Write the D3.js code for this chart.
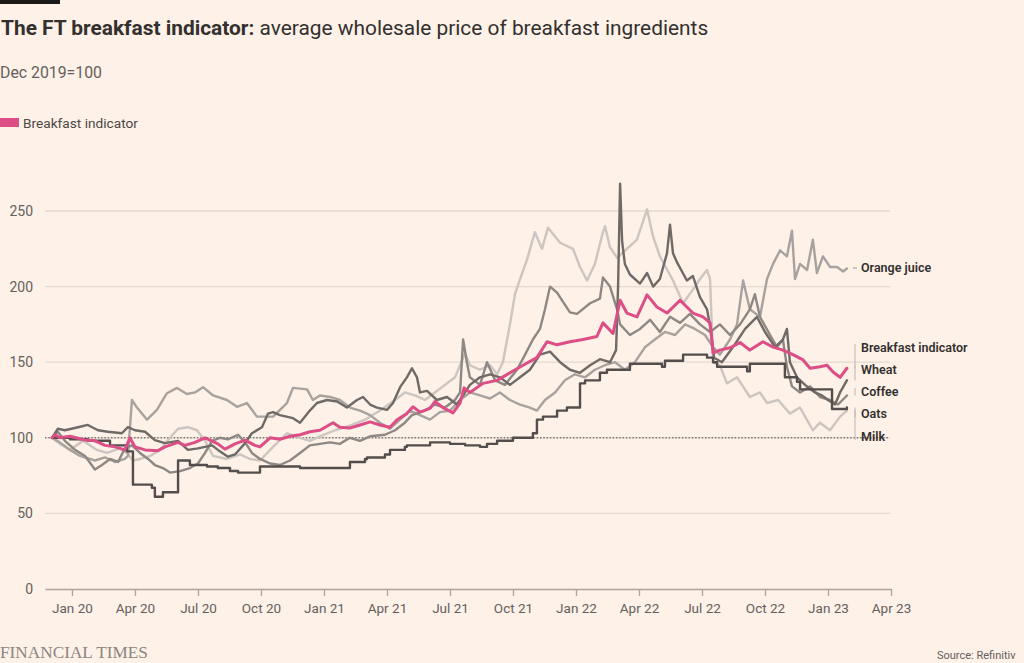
<!DOCTYPE html>
<html><head><meta charset="utf-8">
<script src="https://cdn.jsdelivr.net/npm/d3@7"></script>
<style>
html,body{margin:0;padding:0;background:#fdf1e8;}
svg{display:block;font-family:Roboto,"Noto Sans",sans-serif;}
</style></head><body>
<svg id="chart" width="1024" height="663"></svg>
<script>
// ---- DATA (time as decimal year, value index Dec 2019 = 100) ----
const breakfastIndicator = [[2019.921,100],[2019.933,102],[2019.952,100],[2019.992,101],[2020.052,98.5],[2020.091,98],[2020.131,95],[2020.171,94],[2020.210,92],[2020.230,100],[2020.250,94],[2020.290,92],[2020.341,91.5],[2020.369,94],[2020.421,97],[2020.448,95],[2020.488,97],[2020.528,100],[2020.579,96],[2020.607,92.5],[2020.647,96],[2020.687,98.5],[2020.726,95],[2020.746,94],[2020.786,100],[2020.825,99],[2020.865,101],[2020.905,102],[2020.944,104],[2020.984,105],[2021.036,110],[2021.063,107],[2021.103,106.5],[2021.143,108.5],[2021.183,110.5],[2021.222,108.5],[2021.262,107],[2021.290,112],[2021.329,116],[2021.353,120.5],[2021.381,117],[2021.421,119.5],[2021.440,124],[2021.472,120],[2021.512,116.5],[2021.540,123],[2021.556,133],[2021.579,130],[2021.631,136],[2021.687,138],[2021.738,143],[2021.790,148],[2021.845,153],[2021.885,163.5],[2021.925,161.5],[2021.976,163.5],[2022.028,165],[2022.083,167],[2022.107,176],[2022.147,169],[2022.175,191],[2022.202,182.5],[2022.242,180],[2022.282,194.5],[2022.321,186.5],[2022.361,182.5],[2022.413,191],[2022.440,186.5],[2022.464,182.5],[2022.504,180],[2022.532,176],[2022.544,156],[2022.571,158],[2022.611,159.5],[2022.651,163],[2022.690,158],[2022.742,163.5],[2022.782,160],[2022.821,158],[2022.861,155],[2022.901,151.5],[2022.929,146],[2022.968,147],[2022.996,148],[2023.020,143.5],[2023.048,140],[2023.075,146]];

const wheat = [[2019.921,100],[2019.944,106],[2019.972,105],[2020.024,107],[2020.063,108.5],[2020.103,105],[2020.143,104],[2020.198,103],[2020.222,107],[2020.250,105],[2020.290,104],[2020.329,98.5],[2020.369,96.5],[2020.421,98],[2020.460,92],[2020.500,93],[2020.556,95],[2020.579,92],[2020.619,87.5],[2020.647,89],[2020.687,96.5],[2020.714,103],[2020.754,107],[2020.778,116],[2020.798,117],[2020.825,115],[2020.877,113],[2020.905,110],[2020.944,118],[2020.972,123],[2021.012,125],[2021.052,124],[2021.091,120],[2021.131,125],[2021.155,127],[2021.183,122],[2021.210,120],[2021.250,118.5],[2021.274,123],[2021.302,133.5],[2021.329,140],[2021.349,146],[2021.369,140],[2021.381,130],[2021.409,131],[2021.448,125],[2021.488,127],[2021.528,122],[2021.540,125],[2021.579,135],[2021.619,140],[2021.659,142],[2021.698,140],[2021.738,135],[2021.778,140],[2021.817,145],[2021.857,155],[2021.897,157],[2021.937,150],[2021.976,145],[2022.016,143],[2022.056,148],[2022.095,152],[2022.135,150],[2022.159,158],[2022.167,200],[2022.175,268],[2022.183,230],[2022.194,215],[2022.214,208],[2022.254,202],[2022.282,209],[2022.306,200],[2022.333,205],[2022.361,222],[2022.373,241],[2022.385,222],[2022.401,216],[2022.440,204],[2022.464,207],[2022.492,193],[2022.520,185],[2022.536,170],[2022.548,153],[2022.579,150],[2022.623,160],[2022.671,172],[2022.718,180],[2022.750,170],[2022.790,160],[2022.821,165],[2022.837,172],[2022.849,150],[2022.877,140],[2022.909,135],[2022.948,130],[2022.976,128],[2023.000,125],[2023.028,122],[2023.048,130],[2023.075,138]];

const coffee = [[2019.921,100],[2019.944,104],[2019.972,98],[2020.012,92],[2020.052,88],[2020.091,79],[2020.119,82],[2020.151,86],[2020.183,84],[2020.210,93],[2020.238,95],[2020.270,90],[2020.302,86],[2020.329,82],[2020.361,80],[2020.389,77],[2020.429,78],[2020.468,80],[2020.500,83],[2020.528,90],[2020.556,98],[2020.587,100],[2020.619,99],[2020.659,102],[2020.687,97],[2020.714,90],[2020.746,86],[2020.786,83],[2020.825,82],[2020.865,85],[2020.905,90],[2020.944,95],[2020.984,96],[2021.024,97],[2021.063,96],[2021.103,100],[2021.143,98],[2021.183,101],[2021.242,102],[2021.282,105],[2021.321,110],[2021.349,115],[2021.401,118],[2021.440,122],[2021.480,120],[2021.520,125],[2021.540,130],[2021.552,165],[2021.567,150],[2021.579,140],[2021.619,135],[2021.647,150],[2021.679,138],[2021.718,135],[2021.766,145],[2021.798,155],[2021.829,165],[2021.857,172],[2021.877,185],[2021.897,200],[2021.925,196],[2021.948,190],[2021.976,183],[2022.004,182],[2022.056,189],[2022.095,192],[2022.107,206],[2022.135,200],[2022.163,185],[2022.175,175],[2022.214,168],[2022.254,172],[2022.294,178],[2022.333,170],[2022.373,180],[2022.413,176],[2022.452,182],[2022.492,175],[2022.532,170],[2022.571,175],[2022.611,168],[2022.651,175],[2022.690,185],[2022.710,195],[2022.730,180],[2022.770,168],[2022.798,160],[2022.821,165],[2022.837,147],[2022.857,134],[2022.889,130],[2022.929,134],[2022.968,127],[2023.008,125],[2023.040,122],[2023.075,128]];

const orangeJuice = [[2019.921,100],[2019.952,97],[2019.992,92],[2020.032,88],[2020.091,85],[2020.131,87],[2020.171,84],[2020.210,86],[2020.222,88],[2020.238,125],[2020.258,120],[2020.298,112],[2020.337,118.5],[2020.377,129.5],[2020.417,133],[2020.456,129],[2020.488,130],[2020.520,133.5],[2020.560,128],[2020.615,125],[2020.655,120.5],[2020.694,123],[2020.734,114],[2020.798,114],[2020.853,123],[2020.877,133],[2020.933,132],[2020.956,125],[2020.984,128],[2021.024,127],[2021.063,125],[2021.103,120],[2021.143,118],[2021.183,115],[2021.222,110],[2021.262,106],[2021.302,112],[2021.341,118],[2021.381,115],[2021.421,112],[2021.460,117],[2021.500,118],[2021.540,125],[2021.579,130],[2021.619,128],[2021.659,126],[2021.698,130],[2021.738,125],[2021.778,122],[2021.817,120],[2021.845,118],[2021.877,125],[2021.917,130],[2021.956,138],[2021.996,142],[2022.036,140],[2022.075,145],[2022.115,148],[2022.155,150],[2022.194,145],[2022.234,150],[2022.274,160],[2022.313,165],[2022.353,170],[2022.393,168],[2022.433,175],[2022.472,172],[2022.512,168],[2022.544,160],[2022.571,155],[2022.611,165],[2022.639,175],[2022.663,204],[2022.690,185],[2022.730,180],[2022.758,205],[2022.782,215],[2022.810,224],[2022.837,220],[2022.857,237],[2022.869,205],[2022.889,215],[2022.917,211],[2022.940,231],[2022.956,209],[2022.980,220],[2023.008,213],[2023.036,213],[2023.060,210],[2023.075,212]];

const oats = [[2019.921,100],[2019.952,96],[2019.992,92],[2020.044,98],[2020.099,92],[2020.139,90],[2020.190,93],[2020.218,90],[2020.242,85],[2020.270,86],[2020.310,88],[2020.349,92],[2020.389,100],[2020.421,106],[2020.460,107],[2020.496,105],[2020.528,98],[2020.560,88],[2020.615,86],[2020.667,89],[2020.706,86],[2020.746,85],[2020.798,94],[2020.853,103],[2020.905,100],[2020.944,98],[2020.984,101],[2021.044,105],[2021.103,108],[2021.163,112],[2021.222,118],[2021.282,125],[2021.321,130],[2021.361,128],[2021.401,125],[2021.440,130],[2021.480,135],[2021.520,140],[2021.540,148],[2021.560,156],[2021.579,148],[2021.619,145],[2021.659,148],[2021.687,142],[2021.710,150],[2021.738,175],[2021.758,195],[2021.778,205],[2021.806,218],[2021.837,236],[2021.865,225],[2021.889,239],[2021.937,229],[2021.988,225],[2022.016,213],[2022.044,204],[2022.075,215],[2022.107,236],[2022.115,240],[2022.135,226],[2022.163,219],[2022.202,225],[2022.242,231],[2022.282,251],[2022.306,233],[2022.333,220],[2022.385,204],[2022.425,189],[2022.464,198],[2022.492,205],[2022.520,211],[2022.532,205],[2022.544,150],[2022.571,148],[2022.599,136],[2022.639,140],[2022.690,127],[2022.730,130],[2022.758,123],[2022.802,125],[2022.849,116],[2022.889,120],[2022.940,105],[2022.968,110],[2023.008,105],[2023.048,114],[2023.075,118]];

const milk = [[2019.921,100],[2019.992,99],[2020.063,98],[2020.151,95],[2020.218,91],[2020.242,69],[2020.317,67],[2020.329,61],[2020.361,64],[2020.421,85],[2020.468,82],[2020.536,81],[2020.579,80],[2020.627,78],[2020.659,77],[2020.746,81],[2020.905,80],[2021.091,80],[2021.103,84],[2021.163,86],[2021.171,87],[2021.242,89],[2021.262,92],[2021.321,94],[2021.329,95],[2021.421,97],[2021.500,96],[2021.560,95],[2021.619,94],[2021.647,96],[2021.687,98],[2021.750,100],[2021.829,103],[2021.845,112],[2021.869,114],[2021.925,118],[2021.964,120],[2022.016,136],[2022.036,138],[2022.095,143],[2022.123,145],[2022.214,149],[2022.341,147],[2022.353,151],[2022.425,155],[2022.520,153],[2022.544,150],[2022.560,147],[2022.679,144],[2022.690,149],[2022.829,140],[2022.877,137],[2022.889,132],[2023.016,119],[2023.075,120]];

const yTicks = [0, 50, 100, 150, 200, 250];
const xTickValues = [2020, 2020.25, 2020.5, 2020.75, 2021, 2021.25, 2021.5, 2021.75, 2022, 2022.25, 2022.5, 2022.75, 2023, 2023.25];
const xTickLabels = ["Jan 20","Apr 20","Jul 20","Oct 20","Jan 21","Apr 21","Jul 21","Oct 21","Jan 22","Apr 22","Jul 22","Oct 22","Jan 23","Apr 23"];
const baseValue = 100;

// ---- LAYOUT ----
const W = 1024, H = 663;
const plotLeft = 45, plotRight = 891, plotTop = 211, plotBottom = 589;
const bg = "#fdf1e8";
const svg = d3.select("#chart");
svg.append("rect").attr("width", W).attr("height", H).attr("fill", bg);

const x = d3.scaleLinear().domain([2019.893, 2023.25]).range([plotLeft, plotRight]);
const y = d3.scaleLinear().domain([0, 250]).range([plotBottom, plotTop]);

function fitWidth(sel, size, target) {
  const w = sel.node().getComputedTextLength();
  sel.attr("font-size", size * target / w);
}

// top black bar
svg.append("rect").attr("x", 0).attr("y", 0).attr("width", 60).attr("height", 4).attr("fill", "#1c1a19");

// title
const title = svg.append("text").attr("x", 1).attr("y", 35).attr("fill", "#33302e").attr("font-size", 19);
title.append("tspan").attr("font-weight", 700).text("The FT breakfast indicator:");
title.append("tspan").attr("font-weight", 400).text(" average wholesale price of breakfast ingredients");
fitWidth(title, 19, 708);

const sub = svg.append("text").attr("x", 0).attr("y", 78).attr("fill", "#66605c").attr("font-size", 13.5).text("Dec 2019=100");
fitWidth(sub, 13.5, 102);

// legend
svg.append("rect").attr("x", 0).attr("y", 118).attr("width", 19).attr("height", 9).attr("fill", "#dd4d86");
const leg = svg.append("text").attr("x", 23).attr("y", 127.5).attr("fill", "#4d4845").attr("font-size", 12.5).text("Breakfast indicator");
fitWidth(leg, 12.5, 115);

// gridlines + y labels
const grid = svg.append("g");
yTicks.forEach(v => {
  if (v !== 0) {
    grid.append("line").attr("x1", plotLeft).attr("x2", 890).attr("y1", y(v)).attr("y2", y(v))
      .attr("stroke", "#e4dad1").attr("stroke-width", 1.3);
  }
  grid.append("text").attr("x", 33).attr("y", y(v)).attr("dy", "0.35em").attr("text-anchor", "end")
    .attr("fill", "#66605c").attr("font-size", 14).text(v);
});

// x axis
const xAxis = d3.axisBottom(x).tickValues(xTickValues).tickSize(7).tickSizeOuter(0)
  .tickFormat((d, i) => xTickLabels[i]);
const gx = svg.append("g").attr("transform", `translate(0,${plotBottom})`).call(xAxis);
gx.select(".domain").attr("stroke", "#aca49d").attr("stroke-width", 1.3);
gx.selectAll(".tick line").attr("stroke", "#aca49d").attr("stroke-width", 1.3);
gx.selectAll(".tick text").attr("fill", "#66605c").attr("font-size", 13.5).attr("font-family", "Roboto, sans-serif").attr("dy", "1.05em");

// lines
const line = d3.line().x(d => x(d[0])).y(d => y(d[1])).curve(d3.curveLinear);
const stepLine = d3.line().x(d => x(d[0])).y(d => y(d[1])).curve(d3.curveStepAfter);
const series = [
  {name: "Oats", data: oats, color: "#ccc5c0", gen: line, w: 2.4},
  {name: "Orange juice", data: orangeJuice, color: "#a8a29e", gen: line, w: 2.4},
  {name: "Coffee", data: coffee, color: "#8e8884", gen: line, w: 2.4},
  {name: "Wheat", data: wheat, color: "#706a67", gen: line, w: 2.4},
  {name: "Milk", data: milk, color: "#534d4b", gen: stepLine, w: 2.4},
];

// dotted base line at 100
svg.append("line").attr("x1", plotLeft).attr("x2", 888).attr("y1", y(baseValue)).attr("y2", y(baseValue))
  .attr("stroke", "#4a4542").attr("stroke-width", 1).attr("stroke-dasharray", "1.5,1.8");

const gl = svg.append("g");
series.forEach(s => {
  gl.append("path").attr("d", s.gen(s.data)).attr("fill", "none").attr("stroke", s.color)
    .attr("stroke-width", s.w).attr("stroke-linejoin", "round").attr("stroke-linecap", "round");
});
svg.append("path").attr("d", line(breakfastIndicator)).attr("fill", "none").attr("stroke", "#dd4d86")
  .attr("stroke-width", 3).attr("stroke-linejoin", "round").attr("stroke-linecap", "round");

// right-hand labels with leader lines
const labelNames = ["Orange juice", "Breakfast indicator", "Wheat", "Coffee", "Oats", "Milk"];
const labelSeries = [orangeJuice, breakfastIndicator, wheat, coffee, oats, milk];
const labelPosY = [268, 348, 370, 392, 414, 437];
const ann = svg.append("g");
labelNames.forEach((n, i) => {
  const d = labelSeries[i];
  const endY = y(d[d.length - 1][1]);
  const ly = labelPosY[i];
  if (i === 0) {
    ann.append("line").attr("x1", 853).attr("x2", 857).attr("y1", ly).attr("y2", ly).attr("stroke", "#9b948f").attr("stroke-width", 1);
  } else {
    ann.append("line").attr("x1", 855).attr("x2", 855).attr("y1", Math.min(ly - 4, endY)).attr("y2", Math.max(ly + 3, endY))
      .attr("stroke", "#bdb5ae").attr("stroke-width", 1);
  }
  ann.append("text").attr("x", 861).attr("y", ly).attr("dy", "0.35em").attr("fill", "#33302e")
    .attr("font-size", 12.5).attr("font-weight", 600).text(n);
});

// footer
const ft = svg.append("text").attr("x", 0).attr("y", 658).attr("fill", "#8c8580").attr("font-size", 15)
  .attr("font-family", "'Liberation Serif','DejaVu Serif',serif").text("FINANCIAL TIMES");
fitWidth(ft, 15, 148);
svg.append("text").attr("x", 937).attr("y", 659).attr("fill", "#66605c").attr("font-size", 11).text("Source: Refinitiv");
</script>
</body></html>
